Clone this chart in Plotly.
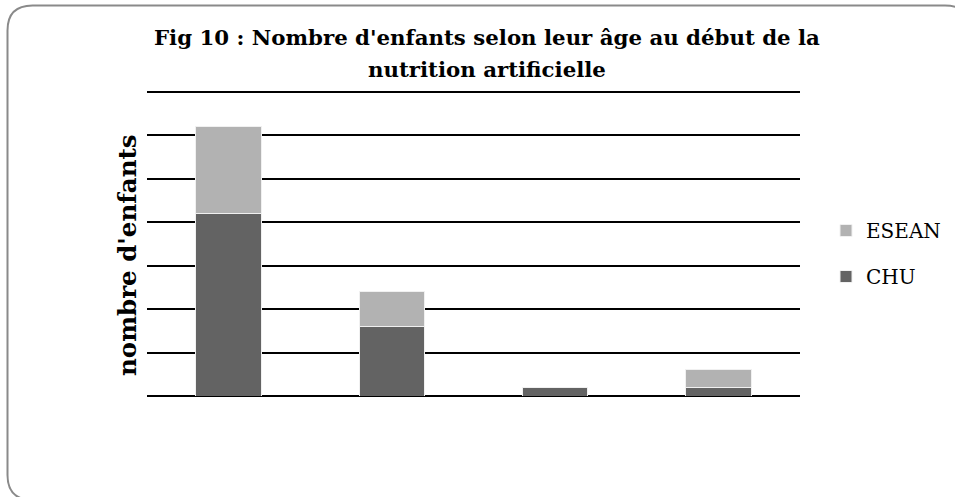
import plotly.graph_objects as go

categories = ["Groupe 1", "Groupe 2", "Groupe 3", "Groupe 4"]
chu = [21, 8, 1, 1]
esean = [10, 4, 0, 2]

title_line1 = "Fig 10 : Nombre d'enfants selon leur âge au début de la"
title_line2 = "nutrition artificielle"
y_title = "nombre d'enfants"

W, H = 955, 497
L, R, T, B = 147, 155, 83, 101
pw, ph = W - L - R, H - T - B
YMAX = 36

def px(x):
    return (x - L) / pw

def py(y):
    return (H - B - y) / ph

FONT = "DejaVu Serif"

fig = go.Figure()
fig.add_trace(go.Bar(x=categories, y=chu, name="CHU", legendgroup="a", legendrank=2,
                     marker=dict(color="#636363", line=dict(color="#f0f0f0", width=1))))
fig.add_trace(go.Bar(x=categories, y=esean, name="ESEAN", legendgroup="b", legendrank=1,
                     marker=dict(color="#b2b2b2", line=dict(color="#f0f0f0", width=1))))

# rounded frame
x0, x1, y0, y1, r = 7.5, 970, 5.5, 500, 25
path = (f"M {px(x0+r)},{py(y0)} L {px(x1-r)},{py(y0)} Q {px(x1)},{py(y0)} {px(x1)},{py(y0+r)} "
        f"L {px(x1)},{py(y1-r)} Q {px(x1)},{py(y1)} {px(x1-r)},{py(y1)} "
        f"L {px(x0+r)},{py(y1)} Q {px(x0)},{py(y1)} {px(x0)},{py(y1-r)} "
        f"L {px(x0)},{py(y0+r)} Q {px(x0)},{py(y0)} {px(x0+r)},{py(y0)} Z")

fig.update_layout(
    width=W, height=H,
    margin=dict(l=L, r=R, t=T, b=B, autoexpand=False),
    paper_bgcolor="white", plot_bgcolor="white",
    barmode="stack", bargap=0.6,
    font=dict(family=FONT, color="black"),
    showlegend=True,
    legend=dict(x=px(826), y=py(211), xanchor="left", yanchor="top",
                traceorder="grouped", tracegroupgap=17,
                font=dict(size=20, family=FONT), bgcolor="rgba(0,0,0,0)"),
    xaxis=dict(showticklabels=False, showgrid=False, zeroline=False, showline=False, ticks=""),
    yaxis=dict(range=[0, YMAX], dtick=5, showticklabels=False, showgrid=True,
               gridcolor="black", gridwidth=2, zeroline=True, zerolinecolor="black",
               zerolinewidth=2, showline=False, ticks=""),
    shapes=[dict(type="path", xref="paper", yref="paper", path=path,
                 line=dict(color="#8a8a8a", width=2), fillcolor="rgba(0,0,0,0)", layer="above")],
    annotations=[
        dict(text="<b>" + title_line1 + "</b>", xref="paper", yref="paper",
             x=px(487), y=py(37), xanchor="center", yanchor="middle", showarrow=False,
             font=dict(size=21.3, family=FONT, color="black")),
        dict(text="<b>" + title_line2 + "</b>", xref="paper", yref="paper",
             x=px(487), y=py(69), xanchor="center", yanchor="middle", showarrow=False,
             font=dict(size=21.3, family=FONT, color="black")),
        dict(text="<b>" + y_title + "</b>", xref="paper", yref="paper",
             x=px(127), y=py(255), xanchor="center", yanchor="middle", showarrow=False,
             textangle=-90, font=dict(size=24.5, family=FONT, color="black")),
    ],
)

fig.write_html("out.html", config={"displayModeBar": False},
               post_script="document.body.style.margin='0';")
